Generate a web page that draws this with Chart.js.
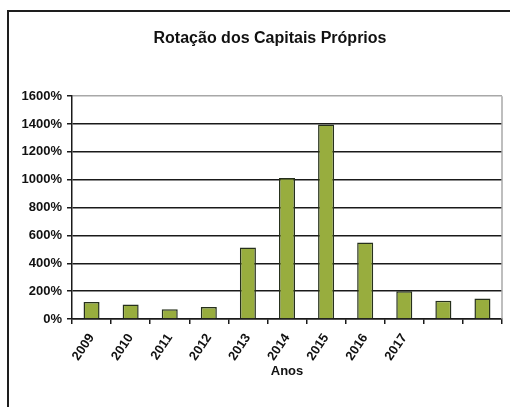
<!DOCTYPE html>
<html>
<head>
<meta charset="utf-8">
<script src="https://cdn.jsdelivr.net/npm/chart.js@4/dist/chart.umd.min.js"></script>
<style>
  html, body { margin: 0; padding: 0; background: #fff; overflow: hidden; }
  #wrap { position: relative; width: 510px; height: 407px; }
  #frame {
    position: absolute; left: 7px; top: 10px; width: 600px; height: 500px;
    border-left: 2px solid #1e1e1e; border-top: 2px solid #1e1e1e;
  }
  canvas { position: absolute; left: 0; top: 0; }
</style>
</head>
<body>
<div id="wrap">
  <div id="frame"></div>
  <canvas id="chart" width="510" height="407"></canvas>
</div>
<script>
const anos = ['2009', '2010', '2011', '2012', '2013', '2014', '2015', '2016', '2017', '', ''];
const rotacao = [122, 105, 70, 86, 514, 1013, 1396, 550, 199, 131, 148];
const yTicks = [0, 200, 400, 600, 800, 1000, 1200, 1400, 1600];

const FONT = '"Liberation Sans", Arial, sans-serif';
// the chart object frame runs past the right edge of the page
const FRAME_LEFT = 8;
const FRAME_RIGHT = 532;

// centre the title over the whole chart frame, not just the visible canvas
const titleSpan = {
  id: 'titleSpan',
  afterLayout(chart) {
    const t = chart.titleBlock;
    t.left = FRAME_LEFT;
    t.right = FRAME_RIGHT;
    t.width = FRAME_RIGHT - FRAME_LEFT;
  }
};

// grey frame on the right side of the plot area
const plotBorder = {
  id: 'plotBorder',
  afterDraw(chart) {
    const { ctx, chartArea } = chart;
    ctx.save();
    ctx.strokeStyle = '#a8a8a8';
    ctx.lineWidth = 1.5;
    ctx.beginPath();
    ctx.moveTo(chartArea.right, chartArea.top);
    ctx.lineTo(chartArea.right, chartArea.bottom);
    ctx.stroke();
    ctx.restore();
  }
};

new Chart(document.getElementById('chart'), {
  type: 'bar',
  data: {
    labels: anos,
    datasets: [{
      data: rotacao,
      backgroundColor: '#98ad3e',
      borderColor: '#26301c',
      borderWidth: 1.5,
      categoryPercentage: 1,
      barPercentage: 0.41
    }]
  },
  options: {
    responsive: false,
    animation: false,
    devicePixelRatio: 1,
    layout: { padding: { left: 10, right: 8, top: 0, bottom: 28 } },
    plugins: {
      legend: { display: false },
      tooltip: { enabled: false },
      title: {
        display: true,
        text: 'Rotação dos Capitais Próprios',
        color: '#111',
        font: { family: FONT, size: 16, weight: 'bold' },
        padding: { top: 29, bottom: 48 }
      }
    },
    scales: {
      y: {
        min: 0,
        max: 1600,
        afterFit(scale) { scale.width = 62; },
        afterBuildTicks(scale) { scale.ticks = yTicks.map(v => ({ value: v })); },
        ticks: {
          color: '#111',
          padding: 5,
          font: { family: FONT, size: 13, weight: 'bold' },
          callback: v => v + '%'
        },
        grid: {
          color: ctx => ctx.tick && ctx.tick.value === 1600 ? '#a8a8a8' : '#1a1a1a',
          lineWidth: 1.5,
          tickLength: 5,
          tickColor: '#1a1a1a'
        },
        border: { color: '#1a1a1a', width: 1.5 }
      },
      x: {
        afterFit(scale) { scale.height = 60; },
        ticks: {
          color: '#111',
          minRotation: 56,
          maxRotation: 56,
          autoSkip: false,
          padding: 7,
          font: { family: FONT, size: 13, weight: 'bold' }
        },
        grid: {
          drawOnChartArea: false,
          offset: true,
          tickLength: 5,
          tickColor: '#1a1a1a',
          lineWidth: 1.5
        },
        border: { color: '#1a1a1a', width: 1.5 },
        title: {
          display: true,
          text: 'Anos',
          color: '#111',
          padding: 0,
          font: { family: FONT, size: 13, weight: 'bold' }
        }
      }
    }
  },
  plugins: [titleSpan, plotBorder]
});
</script>
</body>
</html>
